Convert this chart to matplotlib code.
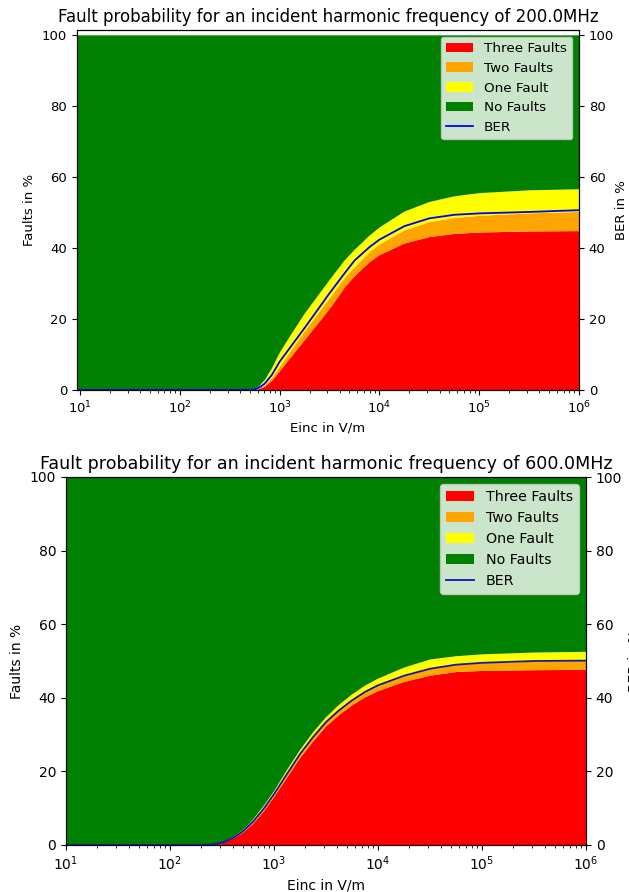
import numpy as np
from matplotlib import pyplot as plt

# 200 MHz: Einc [V/m] and cumulative boundaries (red top, orange top, yellow top) in %
E_200 = [9.3, 316, 525, 550, 603, 631, 708, 832, 1000, 1259, 1778, 3162, 4467, 5623, 7943,
         10000, 17783, 31623, 56234, 100000, 316228, 1000000]
red_200 = [0, 0, 0, 0, 0.1, 0.3, 0.9, 2.5, 5.2, 8.8, 14.0, 22.8, 28.8, 32.0, 36.0,
           38.0, 41.3, 43.1, 44.0, 44.4, 44.7, 44.8]
orange_200 = [0, 0, 0, 0.05, 0.3, 0.5, 1.3, 3.3, 6.5, 10.5, 16.5, 25.8, 31.5, 34.5, 38.8,
              41.0, 45.0, 47.3, 48.5, 49.1, 49.8, 50.2]
yellow_200 = [0, 0, 0, 0.2, 0.8, 1.3, 2.8, 6.0, 10.5, 15.0, 21.5, 31.0, 36.5, 39.5, 43.5,
              45.8, 50.3, 53.0, 54.6, 55.5, 56.3, 56.6]
ber_200 = [0, 0, 0, 0.1, 0.5, 0.8, 1.8, 4.2, 8.0, 11.8, 17.5, 27.3, 32.9, 36.5, 40.3,
           42.4, 46.2, 48.4, 49.4, 49.8, 50.2, 50.7]

# 600 MHz
E_600 = [10, 200, 251, 316, 398, 501, 562, 631, 794, 1000, 1334, 1778, 2371, 3162, 4217,
         5623, 7499, 10000, 17783, 31623, 56234, 100000, 316228, 1000000]
red_600 = [0, 0, 0.1, 0.5, 1.6, 3.3, 4.5, 5.8, 9.1, 13.0, 18.3, 23.6, 28.1, 32.2, 35.3,
           37.9, 40.1, 41.8, 44.3, 46.0, 47.0, 47.3, 47.5, 47.6]
orange_600 = [0, 0, 0.12, 0.55, 1.75, 3.6, 4.9, 6.3, 9.6, 13.6, 19.0, 24.5, 29.1, 33.3, 36.5,
              39.2, 41.5, 43.3, 45.9, 47.8, 48.9, 49.4, 49.8, 50.0]
yellow_600 = [0, 0, 0.15, 0.6, 2.0, 4.1, 5.4, 7.0, 10.6, 14.6, 20.4, 25.8, 30.6, 34.7, 38.1,
              40.9, 43.3, 45.2, 48.2, 50.4, 51.3, 51.8, 52.3, 52.5]
ber_600 = [0, 0, 0.15, 0.6, 1.8, 3.7, 5.0, 6.4, 9.8, 13.8, 19.3, 24.7, 29.3, 33.4, 36.6,
           39.3, 41.6, 43.4, 46.0, 47.9, 49.0, 49.5, 50.0, 50.1]

labels = ['Three Faults', 'Two Faults', 'One Fault', 'No Faults']
colors = ['red', 'orange', 'yellow', 'green']


def draw(ax, E, red, orange, yellow, ber, freq, xlim, ylim, ber_color, fs, title_fs, lfs, rpad):
    red, orange, yellow = np.array(red), np.array(orange), np.array(yellow)
    ax.stackplot(E, red, orange - red, yellow - orange, 100 - yellow,
                 colors=colors, labels=labels)
    ax.set_xscale('log')
    ax.set_xlim(xlim)
    ax.set_ylim(ylim)
    ax.set_xlabel('Einc in V/m', fontsize=fs)
    ax.set_ylabel('Faults in %', fontsize=fs)
    ax.set_title('Fault probability for an incident harmonic frequency of %.1fMHz' % freq,
                 fontsize=title_fs)
    ax.tick_params(labelsize=fs)
    ax2 = ax.twinx()
    ax2.plot(E, ber, color=ber_color, lw=1.3, label='BER')
    ax2.set_ylim(ylim)
    ax2.set_ylabel('BER in %', fontsize=fs, labelpad=rpad)
    ax2.tick_params(labelsize=fs)
    h1, l1 = ax.get_legend_handles_labels()
    h2, l2 = ax2.get_legend_handles_labels()
    ax2.legend(h1 + h2, l1 + l2, loc='upper right', fontsize=lfs)


fig = plt.figure(figsize=(6.29, 8.92), dpi=100)
ax_top = fig.add_axes([77 / 629, 1 - 390 / 892, 502 / 629, 360 / 892])
ax_bot = fig.add_axes([66 / 629, 1 - 845 / 892, 520 / 629, 368 / 892])

draw(ax_top, E_200, red_200, orange_200, yellow_200, ber_200, 200.0,
     (9.3, 1e6), (0, 101.5), 'blue', 9.5, 12, 9.7, 1)
draw(ax_bot, E_600, red_600, orange_600, yellow_600, ber_600, 600.0,
     (10, 1e6), (0, 100), '#1414b4', 10, 12.6, 10.3, 4)

plt.savefig('out.png', dpi=100)
